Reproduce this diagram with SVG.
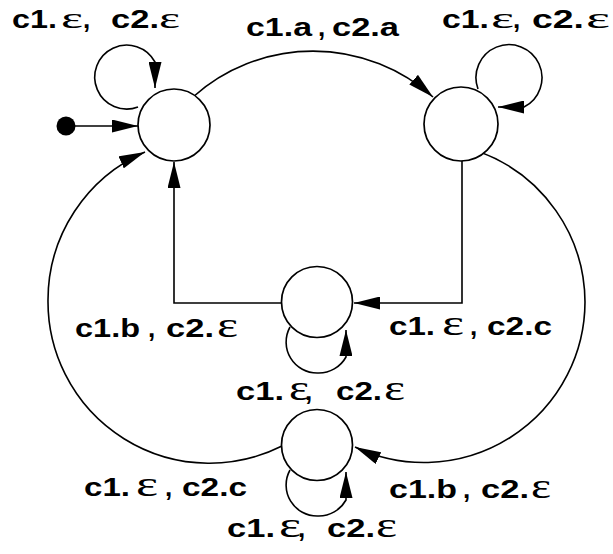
<svg xmlns="http://www.w3.org/2000/svg" width="613" height="554" viewBox="0 0 613 554">
<style>
.st{fill:#fff;stroke:#000;stroke-width:1.7}
.ed{fill:none;stroke:#000;stroke-width:1.6;marker-end:url(#ah)}
text{font-family:"Liberation Sans",Arial,sans-serif;font-size:26px;font-weight:bold;fill:#000}
.e{font-family:"Liberation Serif","Times New Roman",serif;font-weight:normal;font-size:36px}
.t{font-size:30px}
</style>
<defs>
<marker id="ah" markerUnits="userSpaceOnUse" markerWidth="26" markerHeight="13" refX="26" refY="6.5" orient="auto" viewBox="0 0 26 13">
<path d="M0,0 L26,6.5 L0,13 z" fill="#000"/>
</marker>
</defs>
<rect width="613" height="554" fill="#fff"/>
<g id="connectors">
<circle cx="66" cy="126" r="9.5" fill="#000"/>
<path class="ed" d="M66,126 L138,126"/>
<path class="ed" d="M138,107 A32,32 0 1,1 155,62 L155,88"/>
<path class="ed" d="M478,89 A33,33 0 1,1 524,107 L498,107"/>
<path class="ed" d="M290,327 A31,31 0 0,0 318,373 A31,31 0 0,0 346,357 L346,330"/>
<path class="ed" d="M290,470 A31,31 0 0,0 318,516 A31,31 0 0,0 346,500 L346,472"/>
<path class="ed" d="M193,97 A180,180 0 0,1 433,97"/>
<path class="ed" d="M282,303 L174,303 L174,162"/>
<path class="ed" d="M462,161 L462,303 L354,303"/>
<path class="ed" d="M282,446 A161.5,161.5 0 0,1 48,300 A161.5,161.5 0 0,1 145,152"/>
<path class="ed" d="M480,152 A161,161 0 0,1 585,302 A161,161 0 0,1 355,447"/>
</g>
<g id="s0"><circle class="st" cx="174" cy="125" r="36"/></g>
<g id="s1"><circle class="st" cx="461" cy="124" r="37"/></g>
<g id="s2"><circle class="st" cx="317" cy="302" r="35.5"/></g>
<g id="s3"><circle class="st" cx="317" cy="445" r="35.5"/></g>
<g id="labels">
<text y="28"><tspan x="12" textLength="45" lengthAdjust="spacingAndGlyphs">c1.</tspan><tspan class="e t" x="61" textLength="22" lengthAdjust="spacingAndGlyphs">ε</tspan><tspan x="83">,</tspan><tspan x="111" textLength="48" lengthAdjust="spacingAndGlyphs">c2.</tspan><tspan class="e t" x="159" textLength="21" lengthAdjust="spacingAndGlyphs">ε</tspan></text>
<text y="36"><tspan x="246" textLength="66" lengthAdjust="spacingAndGlyphs">c1.a</tspan><tspan x="318">,</tspan><tspan x="332" textLength="67" lengthAdjust="spacingAndGlyphs">c2.a</tspan></text>
<text y="28"><tspan x="442" textLength="47" lengthAdjust="spacingAndGlyphs">c1.</tspan><tspan class="e t" x="491" textLength="23" lengthAdjust="spacingAndGlyphs">ε</tspan><tspan x="513">,</tspan><tspan x="532" textLength="52" lengthAdjust="spacingAndGlyphs">c2.</tspan><tspan class="e t" x="586" textLength="24" lengthAdjust="spacingAndGlyphs">ε</tspan></text>
<text y="337"><tspan x="75" textLength="65" lengthAdjust="spacingAndGlyphs">c1.b</tspan><tspan x="148">,</tspan><tspan x="166" textLength="48" lengthAdjust="spacingAndGlyphs">c2.</tspan><tspan class="e" x="217" textLength="21" lengthAdjust="spacingAndGlyphs">ε</tspan></text>
<text y="335"><tspan x="389" textLength="46" lengthAdjust="spacingAndGlyphs">c1.</tspan><tspan class="e" x="442" textLength="22" lengthAdjust="spacingAndGlyphs">ε</tspan><tspan x="470">,</tspan><tspan x="487" textLength="65" lengthAdjust="spacingAndGlyphs">c2.c</tspan></text>
<text y="400"><tspan x="236" textLength="48" lengthAdjust="spacingAndGlyphs">c1.</tspan><tspan class="e" x="289" textLength="20" lengthAdjust="spacingAndGlyphs">ε</tspan><tspan x="305">,</tspan><tspan x="336" textLength="46" lengthAdjust="spacingAndGlyphs">c2.</tspan><tspan class="e" x="384" textLength="21" lengthAdjust="spacingAndGlyphs">ε</tspan></text>
<text y="496"><tspan x="84" textLength="46" lengthAdjust="spacingAndGlyphs">c1.</tspan><tspan class="e" x="136" textLength="22" lengthAdjust="spacingAndGlyphs">ε</tspan><tspan x="165">,</tspan><tspan x="182" textLength="65" lengthAdjust="spacingAndGlyphs">c2.c</tspan></text>
<text y="498"><tspan x="389" textLength="68" lengthAdjust="spacingAndGlyphs">c1.b</tspan><tspan x="463">,</tspan><tspan x="481" textLength="48" lengthAdjust="spacingAndGlyphs">c2.</tspan><tspan class="e" x="531" textLength="20" lengthAdjust="spacingAndGlyphs">ε</tspan></text>
<text y="537"><tspan x="227" textLength="48" lengthAdjust="spacingAndGlyphs">c1.</tspan><tspan class="e" x="279" textLength="22" lengthAdjust="spacingAndGlyphs">ε</tspan><tspan x="298">,</tspan><tspan x="327" textLength="48" lengthAdjust="spacingAndGlyphs">c2.</tspan><tspan class="e" x="376" textLength="21" lengthAdjust="spacingAndGlyphs">ε</tspan></text>
</g>
</svg>
